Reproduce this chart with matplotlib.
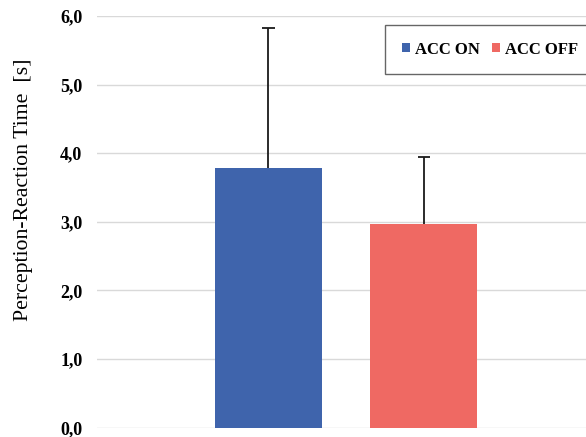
import matplotlib
matplotlib.use("Agg")
import matplotlib.pyplot as plt
import numpy as np
from matplotlib.patches import Patch

series = ["ACC ON", "ACC OFF"]
means = [3.78, 2.97]
sds = [2.05, 0.97]
colors = ["#3F64AC", "#EF6963"]
yticks = [0, 1, 2, 3, 4, 5, 6]
ytick_labels = ["0,0", "1,0", "2,0", "3,0", "4,0", "5,0", "6,0"]

W, H = 586, 437
fig = plt.figure(figsize=(W / 100, H / 100), dpi=100)
ax_left, ax_right = 97, 586
ax_top, ax_bot = 16, 427.7
ax = fig.add_axes([ax_left / W, 1 - ax_bot / H, (ax_right - ax_left) / W, (ax_bot - ax_top) / H])

pos = np.array([0, 1])
m = np.array(means)
s = np.array(sds)
ax.bar(pos, m, width=0.688, color=colors, zorder=3)
ax.vlines(pos, m, m + s, color="#1a1a1a", linewidth=1.3, zorder=4)
ax.hlines(m + s, pos - 0.04, pos + 0.04, color="#1a1a1a", linewidth=1.3, zorder=4)

ax.set_xlim(-1.103, 2.042)
ax.set_ylim(0, 6)
ax.set_yticks(yticks)
ax.set_yticklabels(ytick_labels, fontfamily="Liberation Serif", fontweight="bold", fontsize=13)
ax.tick_params(axis="y", length=0, pad=10.5)
ax.set_xticks([])
ax.grid(axis="y", color="#d9d9d9", linewidth=1.0, zorder=0)
for sp in ax.spines.values():
    sp.set_visible(False)

fig.text(24 / W, 1 - 190 / H, "Perception-Reaction Time  [s]", rotation=90,
         ha="center", va="center", fontfamily="Liberation Serif", fontsize=15.7)

handles = [Patch(facecolor=c, edgecolor="none") for c in colors]
leg = fig.legend(handles, series, loc="upper left", bbox_to_anchor=(385 / W, 1 - 25 / H),
                 ncol=2, frameon=True, fancybox=False, handlelength=0.5, handleheight=0.5,
                 handletextpad=0.3, columnspacing=0.7, borderpad=1.0, borderaxespad=0,
                 prop={"family": "Liberation Serif", "weight": "bold", "size": 12})
leg.get_frame().set_edgecolor("#404040")
leg.get_frame().set_linewidth(1.0)

fig.savefig("out.png", dpi=100)
